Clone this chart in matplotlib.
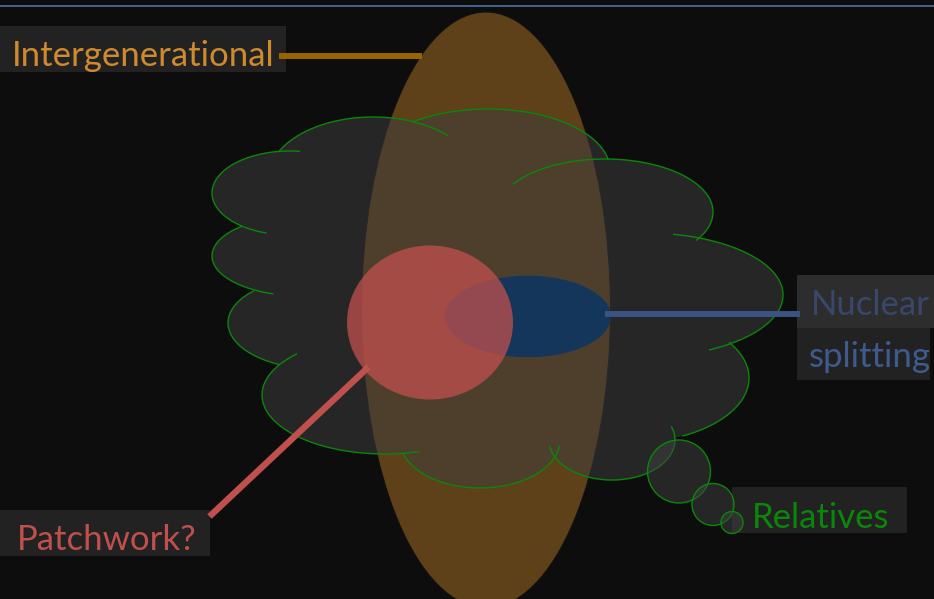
import numpy as np
import matplotlib.pyplot as plt
from matplotlib.patches import Ellipse, Rectangle, Circle, PathPatch
from matplotlib.path import Path

# labels of the diagram
labels = ['Intergenerational', 'Nuclear', 'splitting', 'Patchwork?', 'Relatives']
label_colors = ['#CF8A2E', '#38486B', '#3E5A8E', '#C0504D', '#0A870A']

# cloud lobes: centre x, centre y, half width, half height, arc start, arc end (deg)
lobe_cx = [290, 302, 318, 385, 373, 488, 605, 645, 628, 612, 480]
lobe_cy = [193, 256, 323, 395, 179, 170, 212, 295, 378, 440, 440]
lobe_rx = [78, 90, 90, 123, 105, 122, 108, 138, 121, 63, 80]
lobe_ry = [42, 40, 46, 59, 62, 61, 53, 62, 65, 40, 48]
lobe_t0 = [83, 132, 136, 136, 45, 10, -32, -62, -63, 190, 196]
lobe_t1 = [252, 251, 244, 286, 153, 128, 148, 78, 33, 379, 352]

# thought bubbles
bubble_x = [679, 713, 732]
bubble_y = [471.5, 504.5, 522.5]
bubble_r = [31.5, 21, 11]

BG = '#0d0d0d'
GREEN = '#0A870A'
CLOUD = '#3f3f3f'

fig = plt.figure(figsize=(9.34, 5.99), dpi=100)
fig.patch.set_facecolor(BG)
ax = fig.add_axes([0, 0, 1, 1])
ax.set_facecolor(BG)
ax.set_xlim(0, 934)
ax.set_ylim(599, 0)
ax.axis('off')

# thin rule along the top
ax.plot([0, 934], [5.5, 5.5], color='#4a6a9a', lw=1.3, solid_capstyle='butt')

# tall brown ellipse
ax.add_patch(Ellipse((486, 310), 249, 596, facecolor='#5E4019',
                     edgecolor='#111111', lw=0.8, zorder=1))

# cloud fill: union of the lobes plus a filler in the middle (nonzero fill)
t = np.linspace(0, 2 * np.pi, 200)
verts, codes = [], []
for cx, cy, rx, ry in zip(lobe_cx + [490], lobe_cy + [300], lobe_rx + [180], lobe_ry + [140]):
    pts = np.column_stack([cx + rx * np.cos(t), cy - ry * np.sin(t)])
    verts.extend(pts)
    codes.extend([Path.MOVETO] + [Path.LINETO] * (len(pts) - 2) + [Path.CLOSEPOLY])
ax.add_patch(PathPatch(Path(np.array(verts), codes), facecolor=CLOUD, alpha=0.5,
                       edgecolor='none', zorder=2))

# cloud outline arcs
for cx, cy, rx, ry, a0, a1 in zip(lobe_cx, lobe_cy, lobe_rx, lobe_ry, lobe_t0, lobe_t1):
    a = np.radians(np.linspace(a0, a1, 120))
    ax.plot(cx + rx * np.cos(a), cy - ry * np.sin(a), color=GREEN, lw=1.0, zorder=3)

# blue ellipse and red circle
ax.add_patch(Ellipse((528, 316.5), 166, 81.5, facecolor='#13365A', edgecolor='none', zorder=4))
ax.add_patch(Ellipse((430, 322.5), 166, 154, facecolor='#C0504D', alpha=0.75,
                     edgecolor='none', zorder=5))

# label boxes
boxes = [(0, 26, 286, 46, '#222222'),
         (797, 275, 137, 53, '#2d2d2d'),
         (797, 328, 133, 52, '#222222'),
         (0, 510, 210, 46, '#222222'),
         (732, 487, 175, 46, '#222222')]
for x, y, w, h, c in boxes:
    ax.add_patch(Rectangle((x, y), w, h, facecolor=c, edgecolor='none', zorder=6))

# bubbles (the smallest one sits over the Relatives box)
for bx, by, br in zip(bubble_x, bubble_y, bubble_r):
    ax.add_patch(Circle((bx, by), br, facecolor=(0.25, 0.25, 0.25, 0.5),
                        edgecolor=GREEN, lw=1.0, zorder=7))

# connector lines
ax.plot([279, 421.5], [56.3, 56.3], color='#9C6400', lw=4.3, solid_capstyle='butt', zorder=7)
ax.plot([605, 800], [313.5, 313.5], color='#3B5283', lw=4.3, solid_capstyle='butt', zorder=7)
ax.plot([368.5, 209.5], [367, 516.5], color='#C0504D', lw=4.6, solid_capstyle='butt', zorder=7)

text_pos = [(12, 65.5), (811, 315), (809, 367), (17, 550), (752, 528)]
for (x, y), s, c in zip(text_pos, labels, label_colors):
    ax.text(x, y, s, color=c, fontsize=25, family='Lato', ha='left', va='baseline', zorder=8)

fig.savefig('out.png', dpi=100, facecolor=BG)
